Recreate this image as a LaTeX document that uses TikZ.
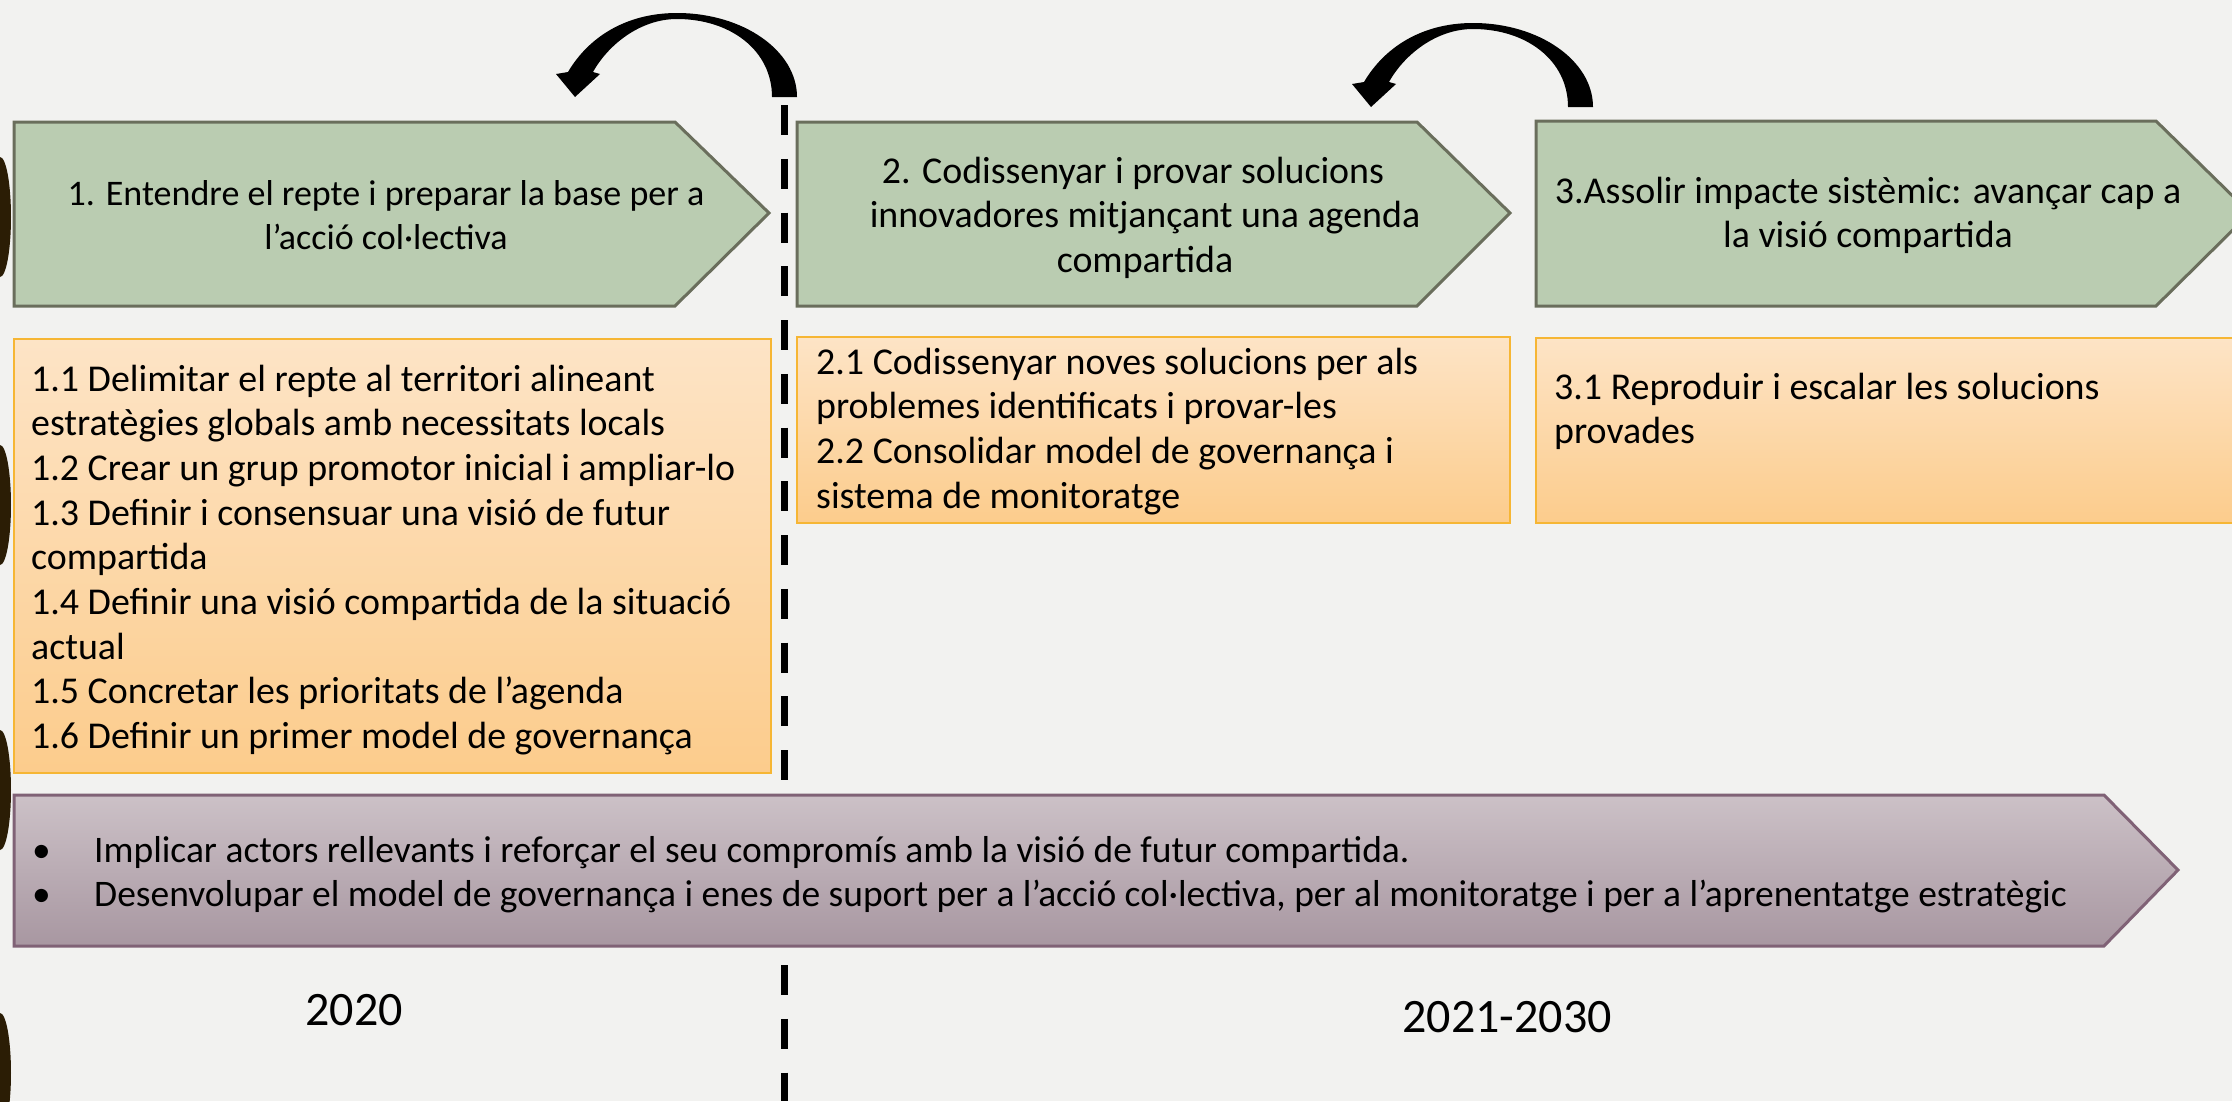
\documentclass[tikz,border=0pt]{standalone}
\usepackage{fontspec}
\setmainfont{Carlito}
\definecolor{bgc}{RGB}{242,242,240}
\definecolor{greenfill}{RGB}{186,204,177}
\definecolor{greenline}{RGB}{106,110,92}
\definecolor{orangetop}{RGB}{253,228,198}
\definecolor{orangebot}{RGB}{252,204,140}
\definecolor{orangeline}{RGB}{246,182,52}
\definecolor{purpletop}{RGB}{204,193,199}
\definecolor{purplebot}{RGB}{168,151,161}
\definecolor{purpleline}{RGB}{128,98,118}
\definecolor{darkbrown}{RGB}{43,29,5}
\tikzset{
  phase/.style={fill=greenfill, draw=greenline, line width=3pt, line join=miter},
  taskbox/.style={top color=orangetop, bottom color=orangebot, draw=orangeline, line width=2.5pt},
  band/.style={top color=purpletop, bottom color=purplebot, draw=purpleline, line width=3pt, line join=miter},
  bodytext/.style={inner sep=0pt, font=\fontsize{37.9}{44.7}\selectfont},
  yeartext/.style={inner sep=0pt, font=\fontsize{48}{56}\selectfont},
  deco/.style={fill=darkbrown},
  divider/.style={line width=7pt, dash pattern=on 30pt off 23.75pt},
  backarrow/.pic={
    \fill[black] (797,97) .. controls (797,50.6) and (743,13) .. (677,13)
      .. controls (625,13) and (588,38) .. (568,72)
      -- (556,74) -- (575,97) -- (600,74) -- (593,72)
      .. controls (608,45) and (640,19) .. (677,19)
      .. controls (730,19) and (772,50) .. (772,97) -- cycle;
  }
}
\begin{document}
\begin{tikzpicture}[x=1pt, y=-1pt]
\useasboundingbox (0,0) rectangle (2232,1101);
\clip (0,0) rectangle (2232,1101);
\fill[bgc] (0,0) rectangle (2232,1101);

% decorative dark shapes on the left edge
\fill[deco] (0,217) ellipse [x radius=11, y radius=60];
\fill[deco] (0,505) ellipse [x radius=11, y radius=60];
\fill[deco] (0,790) ellipse [x radius=11, y radius=60];
\fill[deco] (0,1073) ellipse [x radius=11, y radius=60];

% dashed divider
\coordinate (divtop) at (784,105);
\coordinate (divbot) at (784,1101);
\draw[divider] (divtop) -- (divbot);

% curved arrows
\pic at (0,0) {backarrow};
\pic at (796,10) {backarrow};

% green phase chevrons
\path[phase] (14,122) -- (675,122) -- (769,213) -- (675,306) -- (14,306) -- cycle;
\path[phase] (797,122) -- (1417,122) -- (1510,213) -- (1417,306) -- (797,306) -- cycle;
\path[phase] (1536,121) -- (2156,121) -- (2250,213) -- (2156,306) -- (1536,306) -- cycle;

% orange task boxes
\path[taskbox] (14,339) rectangle (771,773);
\path[taskbox] (797,337) rectangle (1510,523);
\path[taskbox] (1536,338) rectangle (2250,523);

% purple band
\path[band] (14,795) -- (2104,795) -- (2178,870) -- (2104,946) -- (14,946) -- cycle;

% texts
\node[bodytext, font=\fontsize{36}{44.7}\selectfont, anchor=base] (g1) at (386,205) {\begin{tabular}[t]{@{}c@{}}1. Entendre el repte i preparar la base per a\\ l’acció col·lectiva\end{tabular}};
\node[bodytext, anchor=base] (g2) at (1145,183) {\begin{tabular}[t]{@{}c@{}}2. Codissenyar i provar solucions\hspace*{24pt}\\ innovadores mitjançant una agenda\\ compartida\end{tabular}};
\node[bodytext, anchor=base] (g3) at (1868,203) {\begin{tabular}[t]{@{}c@{}}3.Assolir impacte sistèmic: avançar cap a\\ la visió compartida\end{tabular}};

\node[bodytext, anchor=base west] (o1) at (31,391) {\begin{tabular}[t]{@{}l@{}}1.1 Delimitar el repte al territori alineant\\ estratègies globals amb necessitats locals\\ 1.2 Crear un grup promotor inicial i ampliar-lo\\ 1.3 Definir i consensuar una visió de futur\\ compartida\\ 1.4 Definir una visió compartida de la situació\\ actual\\ 1.5 Concretar les prioritats de l’agenda\\ 1.6 Definir un primer model de governança\end{tabular}};
\node[bodytext, anchor=base west] (o2) at (816,374) {\begin{tabular}[t]{@{}l@{}}2.1 Codissenyar noves solucions per als\\ problemes identificats i provar-les\\ 2.2 Consolidar model de governança i\\ sistema de monitoratge\end{tabular}};
\node[bodytext, anchor=base west] (o3) at (1554,399) {\begin{tabular}[t]{@{}l@{}}3.1 Reproduir i escalar les solucions\\ provades\end{tabular}};

\node[bodytext, font=\fontsize{37.5}{44.7}\selectfont, anchor=base west] (p1) at (32,862) {\begin{tabular}[t]{@{}l@{}}\makebox[62pt][l]{•}Implicar actors rellevants i reforçar el seu compromís amb la visió de futur compartida.\\ \makebox[62pt][l]{•}Desenvolupar el model de governança i enes de suport per a l’acció col·lectiva, per al monitoratge i per a l’aprenentatge estratègic\end{tabular}};

\node[yeartext, anchor=base] (y1) at (354,1025) {2020};
\node[yeartext, anchor=base] (y2) at (1507,1032) {2021-2030};
\end{tikzpicture}
\end{document}
